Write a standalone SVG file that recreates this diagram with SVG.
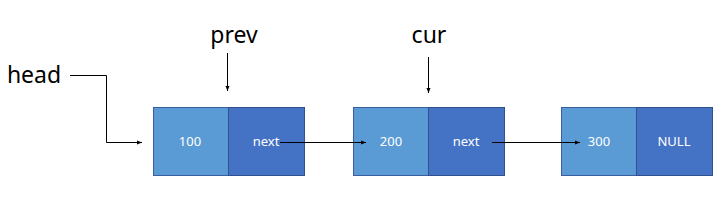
<svg xmlns="http://www.w3.org/2000/svg" width="725" height="214" viewBox="0 0 725 214">
<defs>
<style>
.lbl{font-family:"Noto Sans","Open Sans",sans-serif;font-size:23px;fill:#000;text-anchor:middle}
.val{font-family:"Noto Sans","Open Sans",sans-serif;font-size:13px;fill:#fff;text-anchor:middle}
.lt{fill:#5B9BD5;stroke:#3A5F9E;stroke-width:1}
.dk{fill:#4472C4;stroke:#2F528F;stroke-width:1}
.ln{fill:none;stroke:#000;stroke-width:1}
</style>
<marker id="ah" viewBox="0 0 10 10" refX="10" refY="5" markerWidth="5" markerHeight="5" orient="auto" markerUnits="userSpaceOnUse">
<path d="M0,1 L10,5 L0,9 z" fill="#000"/>
</marker>
</defs>
<rect width="725" height="214" fill="#fff"/>
<g id="head"><text class="lbl" x="34" y="83">head</text></g>
<g id="prev"><text class="lbl" x="234" y="43">prev</text></g>
<g id="cur"><text class="lbl" x="429" y="43">cur</text></g>
<g id="node1">
<rect class="lt" x="153.5" y="107.5" width="75" height="68"/>
<rect class="dk" x="228.5" y="107.5" width="76" height="68"/>
<text class="val" x="190" y="146">100</text>
<text class="val" x="266" y="146">next</text>
</g>
<g id="node2">
<rect class="lt" x="353.5" y="107.5" width="75" height="68"/>
<rect class="dk" x="428.5" y="107.5" width="76" height="68"/>
<text class="val" x="391" y="146">200</text>
<text class="val" x="466" y="146">next</text>
</g>
<g id="node3">
<rect class="lt" x="561.5" y="107.5" width="75" height="68"/>
<rect class="dk" x="636.5" y="107.5" width="76" height="68"/>
<text class="val" x="599" y="146">300</text>
<text class="val" x="674" y="146">NULL</text>
</g>
<g id="connectors">
<polyline class="ln" points="70,75.5 106.5,75.5 106.5,142.5 142,142.5" marker-end="url(#ah)"/>
<line class="ln" x1="227.5" y1="53" x2="227.5" y2="91" marker-end="url(#ah)"/>
<line class="ln" x1="428.5" y1="57" x2="428.5" y2="93" marker-end="url(#ah)"/>
<line class="ln" x1="280" y1="142.5" x2="366" y2="142.5" marker-end="url(#ah)"/>
<line class="ln" x1="492" y1="142.5" x2="580" y2="142.5" marker-end="url(#ah)"/>
</g>
</svg>
